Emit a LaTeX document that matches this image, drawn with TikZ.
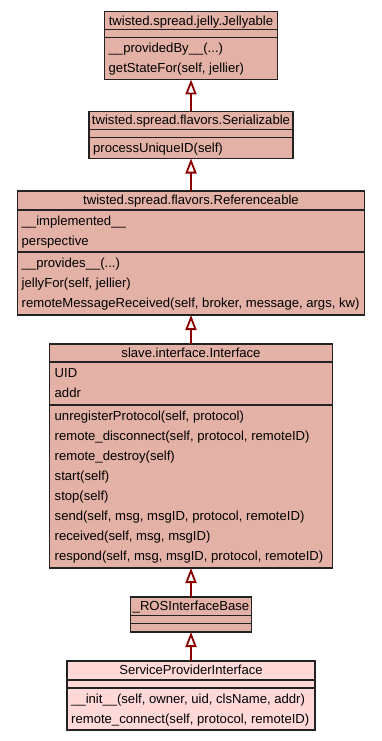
\documentclass[tikz,border=0pt]{standalone}
\usepackage{fontspec}
\setmainfont{Liberation Sans}
\usetikzlibrary{arrows.meta}
\definecolor{clsfill}{RGB}{227,177,165}
\definecolor{selfill}{RGB}{255,216,216}
\definecolor{inhcol}{RGB}{139,0,0}
\definecolor{edgecol}{RGB}{34,34,34}
\tikzset{
  clsbox/.style={draw=edgecol, line width=1.2pt, fill=clsfill, inner sep=0pt, outer sep=0pt, anchor=north},
  selbox/.style={clsbox, fill=selfill},
  sepline/.style={draw=edgecol, line width=1.2pt},
  member/.style={anchor=base west, inner sep=0pt, font=\fontsize{13.1}{15}\selectfont},
  clstitle/.style={anchor=base, inner sep=0pt, font=\fontsize{13.1}{15}\selectfont},
  inherit/.style={draw=inhcol, line width=2pt,
    -{Triangle[length=15pt, width=11pt, fill=white, line width=1.8pt]}}
}
\begin{document}
\begin{tikzpicture}[x=1pt, y=-1pt]
  \fill[white] (0,0) rectangle (381,741);
  \useasboundingbox (0,0) rectangle (381,741);

  % twisted.spread.jelly.Jellyable
  \node[clsbox, minimum width=173pt, minimum height=68pt] (jel) at (191,11.5) {};
  \draw[sepline] (jel.west |- 0,29.5) -- (jel.east |- 0,29.5);
  \draw[sepline] (jel.west |- 0,37.5) -- (jel.east |- 0,37.5);
  \node[clstitle] (jelT) at (191,25.2) {twisted.spread.jelly.Jellyable};
  \node[member] (jelM1) at (108.5,52.7) {\_\_providedBy\_\_(...)};
  \node[member] (jelM2) at (108.5,72.7) {getStateFor(self, jellier)};

  % twisted.spread.flavors.Serializable
  \node[clsbox, minimum width=204pt, minimum height=47pt] (ser) at (191,111.5) {};
  \draw[sepline] (ser.west |- 0,129.5) -- (ser.east |- 0,129.5);
  \draw[sepline] (ser.west |- 0,137.5) -- (ser.east |- 0,137.5);
  \node[clstitle] (serT) at (191,124.5) {twisted.spread.flavors.Serializable};
  \node[member] (serM1) at (93,152.5) {processUniqueID(self)};

  % twisted.spread.flavors.Referenceable
  \node[clsbox, minimum width=347pt, minimum height=124pt] (ref) at (191,191) {};
  \draw[sepline] (ref.west |- 0,210) -- (ref.east |- 0,210);
  \draw[sepline] (ref.west |- 0,252) -- (ref.east |- 0,252);
  \node[clstitle] (refT) at (191,204.7) {twisted.spread.flavors.Referenceable};
  \node[member] (refA1) at (21.5,225.7) {\_\_implemented\_\_};
  \node[member] (refA2) at (21.5,245.7) {perspective};
  \node[member] (refM1) at (21.5,267.7) {\_\_provides\_\_(...)};
  \node[member] (refM2) at (21.5,287.7) {jellyFor(self, jellier)};
  \node[member] (refM3) at (21.5,307.7) {remoteMessageReceived(self, broker, message, args, kw)};

  % slave.interface.Interface
  \node[clsbox, minimum width=283pt, minimum height=224pt] (ifc) at (191,344) {};
  \draw[sepline] (ifc.west |- 0,362) -- (ifc.east |- 0,362);
  \draw[sepline] (ifc.west |- 0,405) -- (ifc.east |- 0,405);
  \node[clstitle] (ifcT) at (191,357.7) {slave.interface.Interface};
  \node[member] (ifcA1) at (54.5,377.7) {UID};
  \node[member] (ifcA2) at (54.5,397.7) {addr};
  \node[member] (ifcM1) at (54.5,420.7) {unregisterProtocol(self, protocol)};
  \node[member] (ifcM2) at (54.5,440.7) {remote\_disconnect(self, protocol, remoteID)};
  \node[member] (ifcM3) at (54.5,460.7) {remote\_destroy(self)};
  \node[member] (ifcM4) at (54.5,480.7) {start(self)};
  \node[member] (ifcM5) at (54.5,500.7) {stop(self)};
  \node[member] (ifcM6) at (54.5,520.7) {send(self, msg, msgID, protocol, remoteID)};
  \node[member] (ifcM7) at (54.5,540.7) {received(self, msg, msgID)};
  \node[member] (ifcM8) at (54.5,560.7) {respond(self, msg, msgID, protocol, remoteID)};

  % _ROSInterfaceBase
  \node[clsbox, minimum width=121pt, minimum height=35pt] (ros) at (191,597) {};
  \draw[sepline] (ros.west |- 0,615.5) -- (ros.east |- 0,615.5);
  \draw[sepline] (ros.west |- 0,623.5) -- (ros.east |- 0,623.5);
  \node[clstitle] (rosT) at (191,610.7) {\_ROSInterfaceBase};

  % ServiceProviderInterface
  \node[selbox, minimum width=248pt, minimum height=69pt] (spi) at (191,661) {};
  \draw[sepline] (spi.west |- 0,680) -- (spi.east |- 0,680);
  \draw[sepline] (spi.west |- 0,688) -- (spi.east |- 0,688);
  \node[clstitle] (spiT) at (191,674.7) {ServiceProviderInterface};
  \node[member] (spiM1) at (71,703.7) {\_\_init\_\_(self, owner, uid, clsName, addr)};
  \node[member] (spiM2) at (71,723.7) {remote\_connect(self, protocol, remoteID)};

  % inheritance arrows
  \draw[inherit] (ser.north) -- (jel.south);
  \draw[inherit] (ref.north) -- (ser.south);
  \draw[inherit] (ifc.north) -- (ref.south);
  \draw[inherit] (ros.north) -- (ifc.south);
  \draw[inherit] (spi.north) -- (ros.south);
\end{tikzpicture}
\end{document}
